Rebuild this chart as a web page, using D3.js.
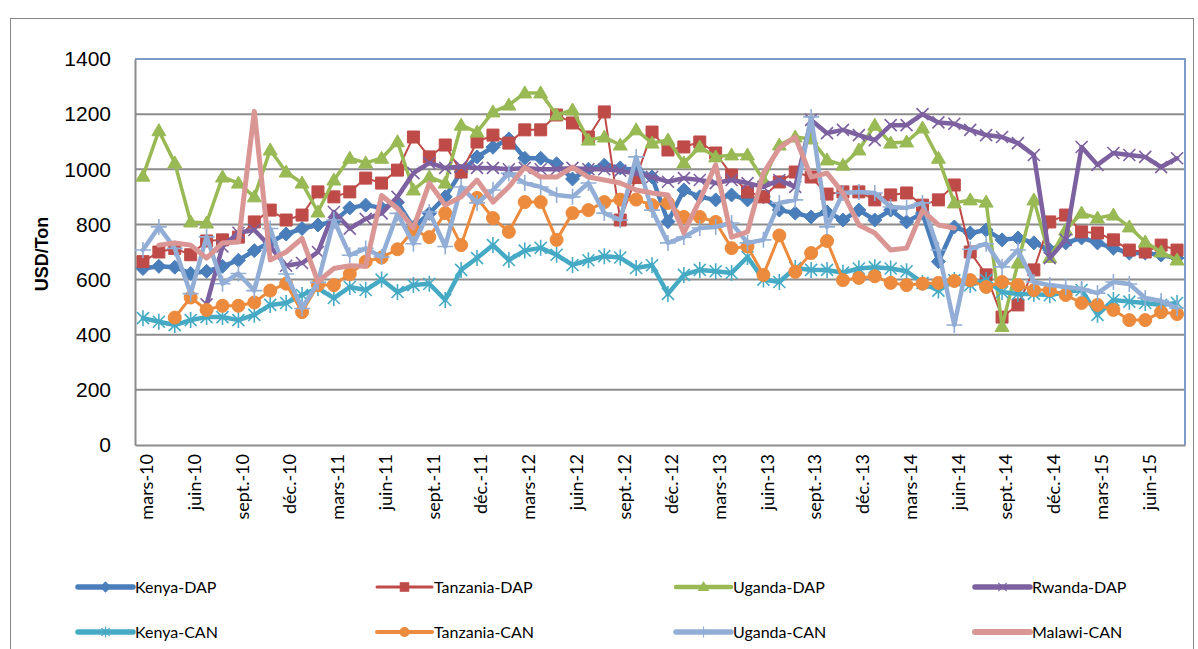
<!DOCTYPE html>
<html>
<head>
<meta charset="utf-8">
<script src="https://cdn.jsdelivr.net/npm/d3@7"></script>
<style>
  body { margin: 0; background: #fff; }
  svg { display: block; }
</style>
</head>
<body>
<div id="chart"></div>
<script>
// monthly categories, mars-10 .. août-15
const monthNames = ['janv.', 'févr.', 'mars', 'avr.', 'mai', 'juin', 'juil.', 'août', 'sept.', 'oct.', 'nov.', 'déc.'];
const months = [];
for (let k = 0; k < 66; k++) {
    const m = (2 + k) % 12, yr = 10 + Math.floor((2 + k) / 12);
    months.push(monthNames[m] + '-' + yr);
}
const yTicks = [0, 200, 400, 600, 800, 1000, 1200, 1400];

const kenyaDAP = [640,648,645,622,630,648,670,705,735,765,785,798,810,860,870,860,880,790,840,900,
    990,1045,1080,1110,1040,1040,1020,965,1000,1015,1005,997,972,810,925,900,889,907,889,900,
    852,841,827,845,816,852,816,852,809,841,665,791,769,780,744,751,733,707,733,751,
    733,714,696,696,689,678];
const tanzaniaDAP = [665,700,713,690,740,744,754,809,852,816,834,918,900,918,968,950,997,1117,1045,1088,
    990,1099,1124,1095,1143,1143,1197,1168,1117,1208,816,970,1135,1070,1081,1099,1059,979,918,900,
    954,990,972,910,918,918,889,907,914,870,889,943,700,617,464,508,635,809,834,773,
    769,744,707,700,725,707];
const ugandaDAP = [975,1140,1023,809,805,972,950,900,1070,990,950,845,961,1040,1023,1040,1100,925,972,950,
    1160,1135,1208,1233,1277,1277,1197,1215,1106,1117,1088,1143,1095,1106,1023,1081,1045,1052,1052,961,
    1088,1117,1110,1034,1015,1070,1160,1095,1099,1150,1040,878,889,881,430,660,889,680,780,841,
    823,834,791,736,700,671];
const rwandaDAP = [null,null,null,null,510,720,770,780,720,650,660,700,845,785,820,840,900,986,1023,1005,
    1010,1005,1005,1000,1005,1000,1000,1005,1000,1000,995,985,972,955,968,961,950,961,950,936,
    961,936,1179,1131,1143,1124,1106,1160,1160,1200,1170,1165,1143,1124,1117,1095,1052,678,744,1081,
    1016,1059,1052,1045,1008,1040];
const kenyaCAN = [460,447,435,453,464,464,453,472,508,515,544,569,533,573,562,600,555,580,585,526,
    635,678,725,671,705,715,690,653,670,685,680,642,652,548,617,635,630,624,682,600,
    591,642,635,635,625,640,645,640,630,588,560,598,580,598,555,548,548,543,555,562,
    472,526,520,515,508,515];
const tanzaniaCAN = [null,null,462,535,490,505,505,517,560,585,482,580,580,620,665,680,710,780,754,841,
    725,896,823,773,881,881,744,841,852,881,890,890,870,878,827,827,809,714,720,617,
    760,628,696,740,598,606,612,588,580,585,588,595,598,573,591,580,562,562,544,515,
    508,490,453,453,482,475];
const ugandaCAN = [707,791,713,549,755,585,622,560,785,620,495,590,816,688,713,682,840,730,845,720,
    936,878,925,986,950,936,907,900,950,841,816,1045,852,733,754,787,791,805,733,744,
    878,889,1190,791,914,918,914,863,860,878,707,435,710,730,646,707,591,580,573,566,
    551,591,584,533,522,497];
const malawiCAN = [null,725,733,725,678,733,736,1210,671,700,749,592,640,650,648,905,858,787,950,870,
    900,961,881,936,1008,972,972,1008,972,961,950,925,914,907,769,889,1016,754,773,986,
    1077,1117,972,986,914,798,769,707,714,850,798,787,null,null,null,null,null,null,null,null,
    null,null,null,null,null,null];

const seriesNames = ['Kenya-DAP', 'Tanzania-DAP', 'Uganda-DAP', 'Rwanda-DAP', 'Kenya-CAN', 'Tanzania-CAN', 'Uganda-CAN', 'Malawi-CAN'];
const seriesValues = [kenyaDAP, tanzaniaDAP, ugandaDAP, rwandaDAP, kenyaCAN, tanzaniaCAN, ugandaCAN, malawiCAN];

// marker shapes (Excel style)
const markerPaths = {
    diamond: 'M0,-7L7,0L0,7L-7,0Z',
    square: 'M-6,-6H6V6H-6Z',
    triangle: 'M0,-7L7,5L-7,5Z',
    times: 'M-6,-6L6,6M-6,6L6,-6',
    asterisk: 'M-6,-6L6,6M-6,6L6,-6M0,-8V8',
    circle: 'M6.5,0A6.5,6.5 0 1 1 -6.5,0A6.5,6.5 0 1 1 6.5,0Z',
    plus: 'M-8,0H8M0,-8V8',
    none: ''
};
const styles = [
    {color: '#4A7EBB', width: 4.5, marker: 'diamond', filled: true},
    {color: '#BE4B48', width: 2, marker: 'square', filled: true},
    {color: '#98B954', width: 3.5, marker: 'triangle', filled: true},
    {color: '#7D60A0', width: 4.5, marker: 'times', filled: false},
    {color: '#46AAC5', width: 4.5, marker: 'asterisk', filled: false},
    {color: '#EC8B3D', width: 3, marker: 'circle', filled: true},
    {color: '#93AED6', width: 4.5, marker: 'plus', filled: false},
    {color: '#D99694', width: 5, marker: 'none', filled: false}
];

const W = 1198, H = 649;
const plot = {left: 135, right: 1185, top: 59, bottom: 445};

const svg = d3.select('#chart').append('svg')
    .attr('width', W)
    .attr('height', H);

// outer chart border
svg.append('rect')
    .attr('x', 10.5).attr('y', 18.5)
    .attr('width', 1183).attr('height', 660)
    .attr('fill', 'none')
    .attr('stroke', '#868686')
    .attr('stroke-width', 1);

const x = d3.scaleBand().domain(months).range([plot.left, plot.right]);
const cx = d => x(d) + x.bandwidth() / 2;
const y = d3.scaleLinear().domain([0, 1400]).range([plot.bottom, plot.top]);

// gridlines
svg.append('g')
    .selectAll('line')
    .data(yTicks.filter(t => t > 0 && t < 1400))
    .join('line')
    .attr('x1', plot.left).attr('x2', plot.right)
    .attr('y1', d => y(d)).attr('y2', d => y(d))
    .attr('stroke', '#8C8C8C')
    .attr('stroke-width', 2);

// plot area border (top/right)
svg.append('path')
    .attr('d', `M${plot.left},${plot.top}H${plot.right}V${plot.bottom}`)
    .attr('fill', 'none')
    .attr('stroke', '#7F9CC8')
    .attr('stroke-width', 2);

// y axis
const yAxis = d3.axisLeft(y).tickValues(yTicks).tickFormat(d3.format('d')).tickSize(0).tickPadding(24);
const yAxisG = svg.append('g')
    .attr('transform', `translate(${plot.left},0)`)
    .call(yAxis);
yAxisG.select('.domain').attr('stroke', '#8C8C8C').attr('stroke-width', 2);
yAxisG.selectAll('text')
    .attr('font-family', '"Liberation Sans", Arial, sans-serif')
    .attr('font-size', 21)
    .attr('fill', '#000');

// x axis
const xAxis = d3.axisBottom(x)
    .tickValues(months.filter((m, i) => i % 3 === 0))
    .tickSize(0);
const xAxisG = svg.append('g')
    .attr('transform', `translate(0,${plot.bottom})`)
    .call(xAxis);
xAxisG.select('.domain').attr('stroke', '#8C8C8C').attr('stroke-width', 2);
xAxisG.selectAll('text')
    .attr('font-family', 'Lato, "Open Sans", sans-serif')
    .attr('font-size', 18)
    .attr('fill', '#000')
    .attr('text-anchor', 'end')
    .attr('transform', 'rotate(-90)')
    .attr('x', -9)
    .attr('y', 4)
    .attr('dy', '0.35em');

// y title
svg.append('text')
    .attr('transform', `translate(48,${(plot.top + plot.bottom) / 2 + 2}) rotate(-90)`)
    .attr('text-anchor', 'middle')
    .attr('font-family', '"Liberation Sans", Arial, sans-serif')
    .attr('font-weight', 'bold')
    .attr('font-size', 18)
    .text('USD/Ton');

// series
const line = d3.line()
    .defined(d => d.v != null)
    .x(d => cx(d.m))
    .y(d => y(d.v));

seriesValues.forEach((vals, s) => {
    const st = styles[s];
    const pts = vals.map((v, i) => ({m: months[i], v: v}));
    const g = svg.append('g');
    g.append('path')
        .datum(pts)
        .attr('d', line)
        .attr('fill', 'none')
        .attr('stroke', st.color)
        .attr('stroke-width', st.width)
        .attr('stroke-linejoin', 'round')
        .attr('stroke-linecap', 'round');
    if (st.marker !== 'none') {
        g.selectAll('path.mk')
            .data(pts.filter(d => d.v != null))
            .join('path')
            .attr('class', 'mk')
            .attr('d', markerPaths[st.marker])
            .attr('transform', d => `translate(${cx(d.m)},${y(d.v)})`)
            .attr('fill', st.filled ? st.color : 'none')
            .attr('stroke', st.color)
            .attr('stroke-width', st.filled ? 1 : 1.6);
    }
});

// legend
const legendCols = [78, 377, 676, 975];
const legendRows = [587, 632];
seriesNames.forEach((name, s) => {
    const st = styles[s];
    const lx = legendCols[s % 4], ly = legendRows[Math.floor(s / 4)];
    const g = svg.append('g').attr('transform', `translate(${lx},${ly})`);
    g.append('line')
        .attr('x1', 0).attr('x2', 55)
        .attr('stroke', st.color)
        .attr('stroke-width', st.width + 1)
        .attr('stroke-linecap', 'round');
    if (st.marker !== 'none') {
        g.append('path')
            .attr('d', markerPaths[st.marker])
            .attr('transform', 'translate(27.5,0) scale(0.7)')
            .attr('fill', st.filled ? st.color : 'none')
            .attr('stroke', st.color)
            .attr('stroke-width', 1.6);
    }
    g.append('text')
        .attr('x', 57)
        .attr('dy', '0.35em')
        .attr('font-family', 'Lato, "Open Sans", sans-serif')
        .attr('font-size', 16)
        .attr('fill', '#000')
        .text(name);
});
</script>
</body>
</html>
